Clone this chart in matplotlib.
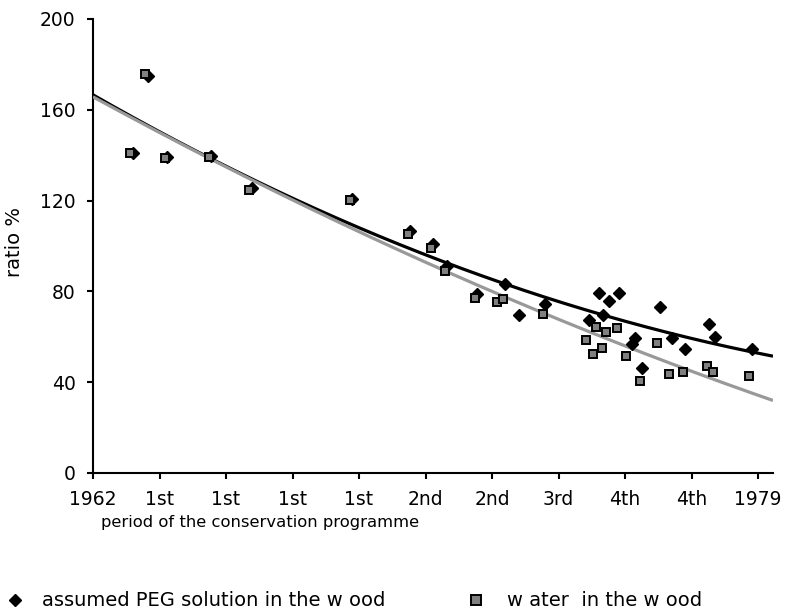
import numpy as np
import matplotlib
matplotlib.use('Agg')
import matplotlib.pyplot as plt
from matplotlib.lines import Line2D

plt.rcParams['font.family'] = ['DejaVu Sans']

# x position on the period axis (tick units), y = ratio %
peg_x = [0.60, 0.83, 1.12, 1.77, 2.39, 3.89, 4.76, 5.12, 5.33, 5.78, 6.20, 6.41, 6.80,
         7.46, 7.61, 7.67, 7.76, 7.91, 8.10, 8.15, 8.25, 8.52, 8.70, 8.90, 9.27, 9.36, 9.91]
peg_y = [141, 175, 139, 139.6, 125.7, 120.7, 106.6, 100.7, 91.2, 78.9, 83.3, 69.6, 74.3,
         67.4, 79.4, 69.6, 75.9, 79.4, 56.8, 59.6, 46.1, 73.3, 59.3, 54.6, 65.5, 60.0, 54.6]

water_x = [0.55, 0.78, 1.08, 1.74, 2.35, 3.86, 4.73, 5.08, 5.29, 5.75, 6.07, 6.17, 6.76,
           7.42, 7.52, 7.57, 7.66, 7.72, 7.88, 8.02, 8.22, 8.48, 8.66, 8.87, 9.24, 9.33, 9.86]
water_y = [141, 175.8, 138.6, 139.3, 124.7, 120.3, 105.2, 99.0, 89.1, 77.0, 75.5, 76.8, 69.9,
           58.6, 52.3, 64.5, 54.9, 62.0, 63.7, 51.5, 40.7, 57.4, 43.5, 44.3, 47.1, 44.3, 42.6]

tick_labels = ['1962', '1st', '1st', '1st', '1st', '2nd', '2nd', '3rd', '4th', '4th', '1979']
legend_labels = ['assumed PEG solution in the w ood', 'w ater  in the w ood']

W, H = 789, 613
fig = plt.figure(figsize=(W/100, H/100), dpi=100)
ax = fig.add_axes([93/W, 1 - 473/H, 680/W, 454/H])

x_end = 680 / 66.5
xx = np.linspace(0, x_end, 200)

# polynomial (order 2) trendlines like the spreadsheet
fit_peg = np.polyfit(peg_x, peg_y, 2)
fit_water = np.polyfit(water_x, water_y, 2)
ax.plot(xx, np.polyval(fit_peg, xx), color='black', lw=2.3, zorder=3, solid_capstyle='butt')
ax.plot(xx, np.polyval(fit_water, xx), color='#999999', lw=2.3, zorder=3, solid_capstyle='butt')

ax.plot(peg_x, peg_y, ls='none', marker='D', ms=6.6, color='black', zorder=4, clip_on=False)
ax.plot(water_x, water_y, ls='none', marker='s', ms=6.4, mfc='#808080', mec='black',
        mew=1.4, zorder=5, clip_on=False)

ax.set_xlim(0, x_end)
ax.set_ylim(0, 200)
ax.set_xticks(range(len(tick_labels)))
ax.set_xticklabels(tick_labels)
ax.set_yticks([0, 40, 80, 120, 160, 200])

for s in ['top', 'right']:
    ax.spines[s].set_visible(False)
for s in ['left', 'bottom']:
    ax.spines[s].set_linewidth(1.5)
ax.tick_params(axis='both', direction='out', length=4.5, width=1.5, labelsize=13.5, color='black')
ax.tick_params(axis='x', pad=7.5)
ax.tick_params(axis='y', pad=8)

fig.text(15/W, 1 - 242/H, 'ratio %', fontsize=14, rotation=90, ha='center', va='center')
fig.text(101/W, 1 - 522/H, 'period of the conservation programme', fontsize=11.8,
         ha='left', va='center')

# legend drawn by hand to keep the wide gap between the two entries
ly = 1 - 600/H
fig.add_artist(Line2D([15/W], [ly], ls='none', marker='D', ms=6.4, color='black',
                      transform=fig.transFigure))
fig.text(42/W, ly, legend_labels[0], fontsize=14, ha='left', va='center')
fig.add_artist(Line2D([476/W], [ly], ls='none', marker='s', ms=6.5, mfc='#808080', mec='black',
                      mew=1.4, transform=fig.transFigure))
fig.text(507/W, ly, legend_labels[1], fontsize=14, ha='left', va='center')

fig.savefig('out.png', dpi=100)
